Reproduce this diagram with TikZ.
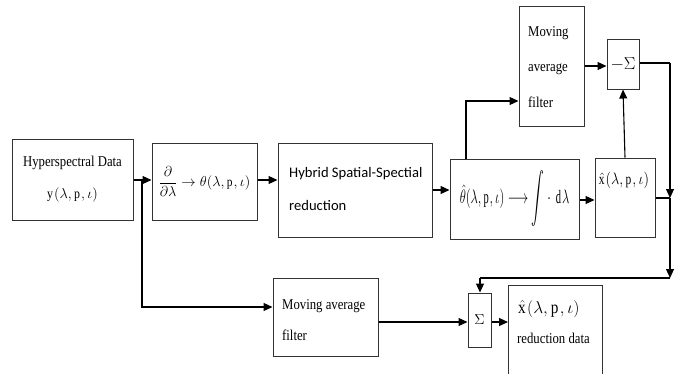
\documentclass[tikz,border=0pt]{standalone}
\usepackage{amsmath}
\usepackage{graphicx}
\usepackage{fontspec}
\setmainfont{Liberation Serif}[FakeStretch=0.85]
\newfontfamily\hybfont{Carlito}
\usetikzlibrary{arrows.meta}
\begin{document}
\begin{tikzpicture}[x=1pt,y=-1pt,
  box/.style={draw=black!80,line width=1pt,inner sep=0pt,align=center},
  arr/.style={line width=1.1pt,-{Triangle[length=9pt,width=8pt]}},
  ln/.style={line width=1.1pt},
  txt/.style={inner sep=0pt,align=left,font=\fontsize{15}{16}\selectfont}]
\useasboundingbox (0,0) rectangle (684,373);
\clip (0,0) rectangle (684,373);
% boxes
\node[box,minimum width=121,minimum height=81,font=\fontsize{15}{32}\selectfont] (hyp) at (72.5,179.5) {Hyperspectral Data\\\fontsize{14}{16}\selectfont$\mathrm{y}(\lambda,\mathrm{p},\iota)$};
\node[box,minimum width=105,minimum height=77,font=\fontsize{13.5}{15}\selectfont] (dd) at (204.5,181.5) {$\dfrac{\partial}{\partial\lambda}\rightarrow\theta(\lambda,\mathrm{p},\iota)$};
\node[box,minimum width=154,minimum height=94] (hyb) at (355,190) {};
\node[txt,anchor=west,font=\hybfont\fontsize{14.6}{33}\selectfont] (hybt) at (289,189) {Hybrid Spatial-Spectial\\reduction};
\node[box,minimum width=129,minimum height=80,font=\fontsize{14}{16}\selectfont] (th) at (514.5,199) {\scalebox{0.88}[1.35]{$\hat\theta(\lambda,\mathrm{p},\iota)\longrightarrow\raisebox{-0.2ex}{\scalebox{1}[1.3]{$\displaystyle\int$}}\cdot\,\mathrm{d}\lambda$}};
\node[box,minimum width=60,minimum height=79] (xh) at (625,197.5) {};
\node[txt,font=\fontsize{13.5}{15}\selectfont] (xht) at (624,180) {\scalebox{1}[1.15]{$\hat{\mathrm{x}}(\lambda,\mathrm{p},\iota)$}};
\node[box,minimum width=65,minimum height=120] (maf1) at (551.5,66) {};
\node[txt,anchor=west,font=\fontsize{15}{35.5}\selectfont] (maf1t) at (528,67) {Moving\\average\\filter};
\node[box,minimum width=32,minimum height=50,font=\fontsize{16}{18}\selectfont] (msig) at (623,64) {$-\Sigma$};
\node[box,minimum width=105,minimum height=78] (maf2) at (325.5,317) {};
\node[txt,anchor=west,font=\fontsize{15}{31}\selectfont] (maf2t) at (282,320) {Moving average\\filter};
\node[box,minimum width=23,minimum height=54,font=\fontsize{15}{17}\selectfont] (sig) at (479.5,320) {$\Sigma$};
\node[box,minimum width=94,minimum height=115,anchor=north west] (red) at (508,285) {};
\node[txt,anchor=west] (redx) at (518,309) {\fontsize{18}{20}\selectfont$\hat{\mathrm{x}}(\lambda,\mathrm{p},\iota)$};
\node[txt,anchor=west] (redt) at (517,338) {reduction data};
% helper coordinates
\coordinate (b1) at (142,180);
\coordinate (yA) at (0,180);
\coordinate (yB) at (0,190);
\coordinate (yC) at (0,200);
\coordinate (yD) at (0,307);
\coordinate (yE) at (0,322);
\coordinate (yF) at (0,66);
\coordinate (yG) at (0,101);
\coordinate (yH) at (0,63);
\coordinate (yJ) at (0,198);
\coordinate (xT) at (466,0);
\coordinate (rc) at (670,63);
\coordinate (rj) at (670,198);
\coordinate (rb) at (670,278);
\coordinate (sc) at (480,278);
% connectors
\draw[arr] (hyp.east |- yA) -- (dd.west |- yA);
\draw[arr] (b1) |- (maf2.west |- yD);
\draw[arr] (dd.east |- yA) -- (hyb.west |- yA);
\draw[arr] (hyb.east |- yB) -- (th.west |- yB);
\draw[arr] (th.east |- yC) -- (xh.west |- yC);
\draw[arr] (th.north -| xT) |- (maf1.west |- yG);
\draw[arr] (maf1.east |- yF) -- (msig.west |- yF);
\draw[arr] (xh.north) -- (msig.south);
\draw[ln] (msig.east |- yH) -- (rc);
\draw[arr] (rc) -- (rj);
\draw[ln] (xh.east |- yJ) -- (rj);
\draw[arr] (rj) -- (rb);
\draw[ln] (rb) -- (sc);
\draw[arr] (sc) -- (sig.north -| sc);
\draw[arr] (maf2.east |- yE) -- (sig.west |- yE);
\draw[arr] (sig.east |- yE) -- (red.west |- yE);
\end{tikzpicture}
\end{document}
